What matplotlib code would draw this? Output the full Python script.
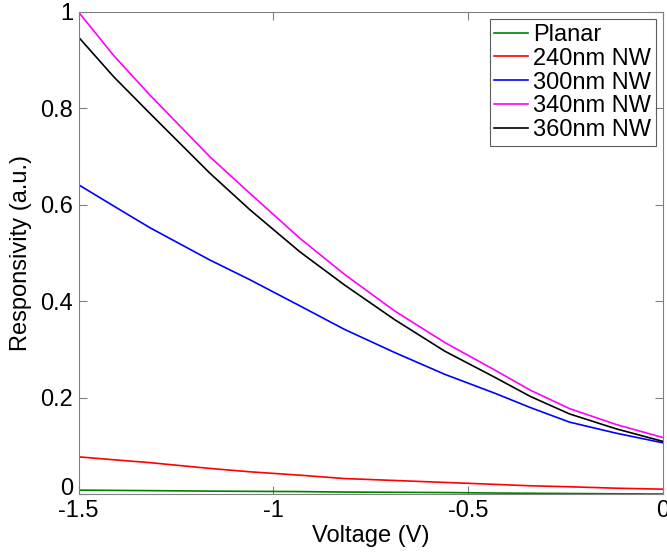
import matplotlib
matplotlib.use("Agg")
import matplotlib.pyplot as plt
from matplotlib.transforms import ScaledTranslation

plt.rcParams["font.family"] = ["Liberation Sans", "DejaVu Sans"]

voltage = [-1.5, -1.41, -1.317, -1.163, -1.06, -0.932, -0.817, -0.688, -0.56,
           -0.432, -0.34, -0.24, -0.12, 0.0]

# Normalised responsivity for each device
planar = [0.009, 0.0085, 0.008, 0.007, 0.0065, 0.006, 0.005, 0.0045, 0.004,
          0.003, 0.0025, 0.002, 0.0015, 0.001]
nw240 = [0.078, 0.072, 0.066, 0.054, 0.047, 0.040, 0.033, 0.029, 0.025,
         0.021, 0.018, 0.016, 0.013, 0.011]
nw300 = [0.642, 0.598, 0.553, 0.486, 0.445, 0.391, 0.342, 0.294, 0.249,
         0.210, 0.180, 0.150, 0.127, 0.107]
nw340 = [1.000, 0.910, 0.828, 0.700, 0.624, 0.531, 0.456, 0.380, 0.315,
         0.258, 0.216, 0.178, 0.145, 0.118]
nw360 = [0.948, 0.866, 0.790, 0.666, 0.590, 0.503, 0.434, 0.362, 0.297,
         0.243, 0.203, 0.167, 0.136, 0.110]

series = [
    ("Planar", planar, "#008000"),
    ("240nm NW", nw240, "#ff0000"),
    ("300nm NW", nw300, "#0000ff"),
    ("340nm NW", nw340, "#ff00ff"),
    ("360nm NW", nw360, "#000000"),
]

fig = plt.figure(figsize=(6.67, 5.52), dpi=100)
ax = fig.add_axes([0.1177, 0.1042, 0.8763, 0.8741])

for label, vals, color in series:
    ax.plot(voltage, vals, color=color, lw=1.2, label=label)

ax.set_xlim(-1.5, 0)
ax.set_ylim(0, 1)
ax.set_xticks([-1.5, -1, -0.5, 0])
ax.set_xticklabels(["-1.5", "-1", "-0.5", "0"])
ax.set_yticks([0, 0.2, 0.4, 0.6, 0.8, 1])
ax.set_yticklabels(["0", "0.2", "0.4", "0.6", "0.8", "1"])

ax.tick_params(direction="in", length=6, width=0.8, color="#808080",
               labelsize=17, top=True, right=True, pad=4)
for spine in ax.spines.values():
    spine.set_color("#808080")
    spine.set_linewidth(0.8)

# MATLAB lifts the bottom y label clear of the x labels
zero_lab = ax.yaxis.get_major_ticks()[0].label1
zero_lab.set_transform(zero_lab.get_transform()
                       + ScaledTranslation(0, 8 / 100, fig.dpi_scale_trans))

ax.set_xlabel("Voltage (V)", fontsize=17, labelpad=2)
ax.set_ylabel("Responsivity (a.u.)", fontsize=17, labelpad=6)

leg = ax.legend(loc="upper right", fontsize=17, frameon=True, fancybox=False,
                handlelength=1.45, handletextpad=0.2, labelspacing=0.08,
                borderpad=0.2, borderaxespad=0.3)
leg.get_frame().set_edgecolor("#333333")
leg.get_frame().set_linewidth(0.8)

fig.savefig("out.png", dpi=100)
